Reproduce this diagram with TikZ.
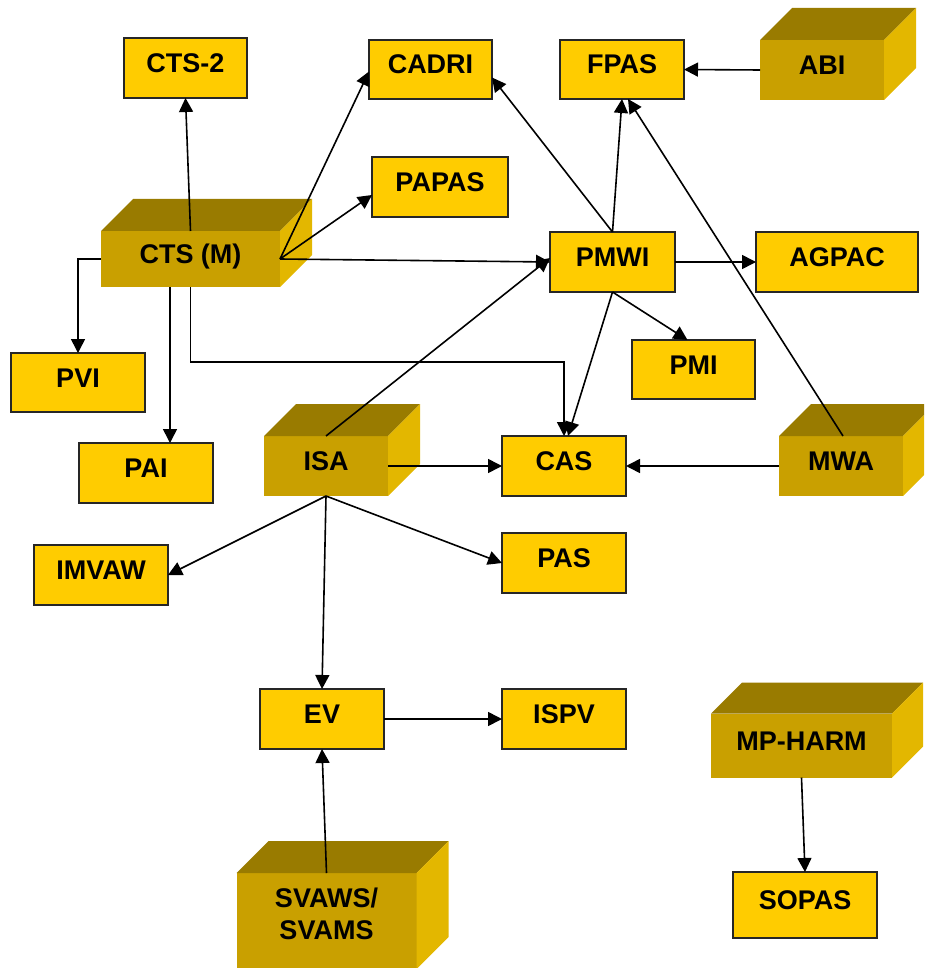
\documentclass[tikz,border=0pt]{standalone}
\usepackage{fontspec}
\setmainfont{Liberation Sans}
\usetikzlibrary{arrows.meta,calc}

\definecolor{boxFill}{HTML}{FFCC00}
\definecolor{boxLine}{HTML}{262626}
\definecolor{cubeFront}{HTML}{C9A000}
\definecolor{cubeTop}{HTML}{997B00}
\definecolor{cubeSide}{HTML}{E3B700}

\tikzset{
  lbl/.style={font=\fontsize{27}{32}\selectfont\bfseries, text=black, align=center},
  boxlbl/.style={lbl, text height=19pt, text depth=10pt},
  flatbox/.style={boxlbl, draw=boxLine, line width=1.4pt, fill=boxFill,
    inner sep=0pt, outer sep=0pt, minimum width=124pt, minimum height=60pt},
  cubebox/.style={boxlbl, fill=cubeFront, inner sep=0pt, outer sep=0pt,
    minimum width=124pt, minimum height=60pt},
  link/.style={line width=1.6pt, -{Triangle[length=14pt,width=14pt]}},
}

% top and right faces of a 3D block whose front face is node #2
\newcommand\blockfaces[2][32]{%
  \fill[cubeTop] (#2.north west) -- ++(#1,-#1) -- ($(#2.north east)+(#1,-#1)$)
    -- (#2.north east) -- cycle;
  \fill[cubeSide] (#2.north east) -- ++(#1,-#1) -- ($(#2.south east)+(#1,-#1)$)
    -- (#2.south east) -- cycle;
}

\begin{document}
\begin{tikzpicture}[x=1pt,y=-1pt]
\useasboundingbox (0,0) rectangle (924,968);
\clip (0,0) rectangle (924,968);

% flat boxes
\node[flatbox, minimum width=123pt] (cts2) at (185.5,68) {CTS-2};
\node[flatbox, minimum width=123pt, minimum height=59pt] (cadri) at (430.5,69.5) {CADRI};
\node[flatbox, minimum height=59pt] (fpas) at (622,69.5) {FPAS};
\node[flatbox, minimum width=136pt] (papas) at (440,187) {PAPAS};
\node[flatbox, minimum width=125pt] (pmwi) at (612.5,262) {PMWI};
\node[flatbox, minimum width=162pt] (agpac) at (837,262) {AGPAC};
\node[flatbox, minimum width=134pt, minimum height=59pt] (pvi) at (78,382.5) {PVI};
\node[flatbox, minimum width=123pt, minimum height=59pt] (pmi) at (693.5,369.5) {PMI};
\node[flatbox, minimum width=134pt] (pai) at (146,473) {PAI};
\node[flatbox] (cas) at (564,466) {CAS};
\node[flatbox, minimum width=134pt] (imvaw) at (101,575) {IMVAW};
\node[flatbox] (pas) at (564,563) {PAS};
\node[flatbox] (ev) at (322,719) {EV};
\node[flatbox] (ispv) at (564,719) {ISPV};
\node[flatbox, minimum width=144pt, minimum height=66pt] (sopas) at (805,905) {SOPAS};

% 3D blocks
\node[cubebox] (abi) at (822,70) {ABI};
\blockfaces{abi}
\node[cubebox, minimum width=179pt, minimum height=56pt] (ctsm) at (190.5,259) {CTS (M)};
\blockfaces{ctsm}
\node[cubebox] (isa) at (326,466) {ISA};
\blockfaces{isa}
\node[cubebox] (mwa) at (841,466) {MWA};
\blockfaces{mwa}
\node[cubebox, minimum width=181pt, minimum height=64pt] (mpharm) at (801.5,745.5) {MP-HARM};
\blockfaces[31]{mpharm}
\node[cubebox, minimum width=180pt, minimum height=96pt] (svaws) at (326.5,921) {};
\blockfaces{svaws}
\node[lbl] (svawstext) at (326.5,914) {SVAWS/\\SVAMS};

% connectors
\draw[link] (ctsm.north) -- (cts2.south);
\draw[link] (ctsm.east) -- ([yshift=-2pt]cadri.west);
\draw[link] (ctsm.east) -- ([yshift=-8pt]papas.west);
\draw[link] (ctsm.east) -- (pmwi.west);
\draw[link] (ctsm.west) -| (pvi.north);
\draw[link] ([xshift=-20.5pt]ctsm.south) -- ([xshift=-20.5pt]ctsm.south |- pai.north);
\draw[link] (ctsm.south) -- ++(0,75) -| (cas.north);

\draw[link] (pmwi.north) -- ([yshift=-8pt]cadri.east);
\draw[link] (pmwi.north) -- (fpas.south);
\draw[link] ([xshift=2pt]mwa.north) -- ([xshift=6pt]fpas.south);
\draw[link] (pmwi.east) -- (agpac.west);
\draw[link] (pmwi.south) -- ([xshift=-6pt]pmi.north);
\draw[link] (pmwi.south) -- ([xshift=4pt]cas.north);
\draw[link] (abi.west) -- (fpas.east);

\draw[link] (isa.north) -- ([yshift=4pt]pmwi.west);
\draw[link] (isa.east) -- (cas.west);
\draw[link] (mwa.west) -- (cas.east);
\draw[link] (isa.south) -- (imvaw.east);
\draw[link] (isa.south) -- (pas.west);
\draw[link] (isa.south) -- (ev.north);
\draw[link] (ev.east) -- (ispv.west);
\draw[link] (svaws.north) -- (ev.south);
\draw[link] (mpharm.south) -- (sopas.north);
\end{tikzpicture}
\end{document}
